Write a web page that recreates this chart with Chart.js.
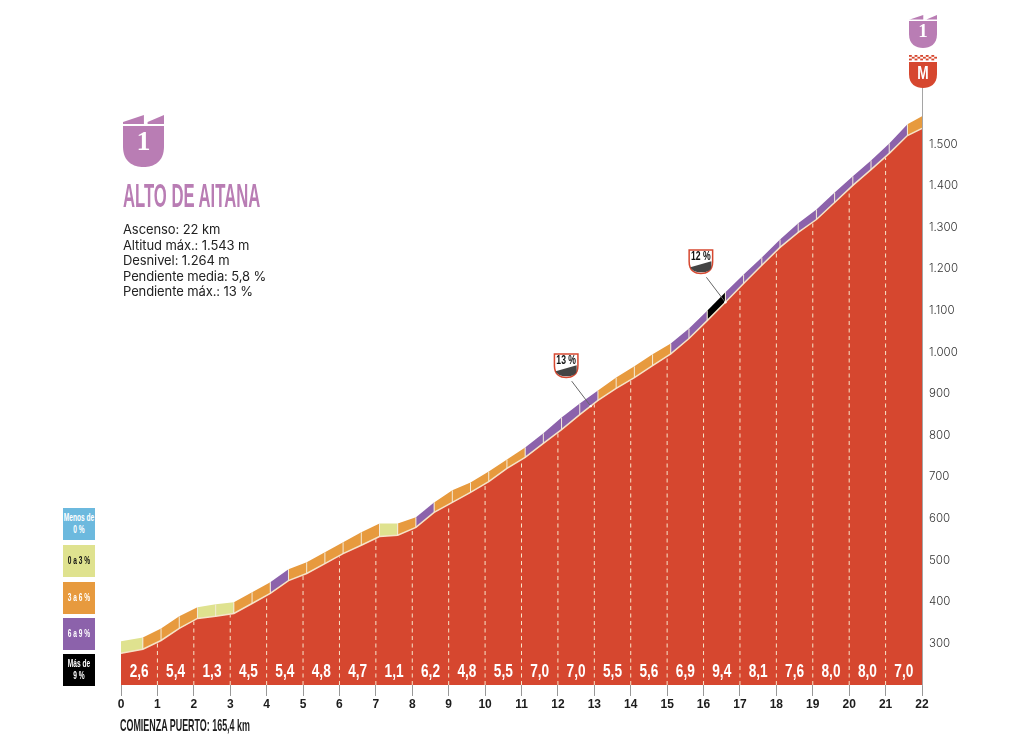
<!DOCTYPE html>
<html lang="es">
<head>
<meta charset="utf-8">
<title>Alto de Aitana</title>
<script src="https://cdn.jsdelivr.net/npm/chart.js@4"></script>
<style>
    html, body { margin: 0; padding: 0; background: #fff; }
    #wrap { position: relative; width: 1024px; height: 749px; overflow: hidden; }
    #profileChart { position: absolute; left: 0; top: 0; }
    .narrow { font-family: "Liberation Sans Narrow", "Liberation Sans", sans-serif; font-weight: 700; }
    .squeeze { position: absolute; white-space: nowrap; transform-origin: left top; }
    #title { left: 123px; top: 177px; font-size: 34px; line-height: 36px; color: #b97db4; transform: scaleX(0.49); }
    #stats { position: absolute; left: 123px; top: 222px; font: 13px/15.5px Inter, sans-serif; letter-spacing: -0.1px; color: #222; }
    #start { left: 120px; top: 716px; font-size: 17px; line-height: 19px; color: #1c1c1c; transform: scaleX(0.525); }
    .key { position: absolute; left: 63px; width: 32px; height: 32px; display: flex; align-items: center;
           justify-content: center; text-align: center; font-size: 10px; line-height: 12px; white-space: nowrap; }
    .key span { display: inline-block; transform: scaleX(0.66); }
</style>
</head>
<body>
<div id="wrap">
    <canvas id="profileChart" width="1024" height="749"></canvas>
    <div id="title" class="squeeze narrow">ALTO DE AITANA</div>
    <div id="stats">Ascenso: 22 km<br>Altitud máx.: 1.543 m<br>Desnivel: 1.264 m<br>Pendiente media: 5,8 %<br>Pendiente máx.: 13 %</div>
    <div id="start" class="squeeze narrow">COMIENZA PUERTO: 165,4 km</div>
    <div class="key narrow" style="top:508px;background:#6cb9de;color:#fff"><span>Menos de<br>0 %</span></div>
    <div class="key narrow" style="top:545px;background:#dfe28f;color:#111"><span>0 a 3 %</span></div>
    <div class="key narrow" style="top:582px;background:#e79a3e;color:#fff"><span>3 a 6 %</span></div>
    <div class="key narrow" style="top:618px;background:#8c62ab;color:#fff"><span>6 a 9 %</span></div>
    <div class="key narrow" style="top:654px;background:#000;color:#fff"><span>Más de<br>9 %</span></div>
</div>

<script>
const kmMarks = [0, 0.6, 1.1, 1.6, 2.1, 2.6, 3.1, 3.6, 4.1, 4.6, 5.1, 5.6, 6.1, 6.6, 7.1, 7.6, 8.1, 8.6, 9.1, 9.6, 10.1, 10.6,
    11.1, 11.6, 12.1, 12.6, 13.1, 13.6, 14.1, 14.6, 15.1, 15.6, 16.1, 16.6, 17.1, 17.6, 18.1, 18.6, 19.1, 19.6, 20.1, 20.6, 21.1, 21.6, 22];
const elevation = [276, 286, 307, 336, 360, 365, 372, 396, 420, 451, 468, 492, 516, 536, 557, 560, 579, 615, 639, 663, 689, 721,
    747, 781, 814, 850, 884, 913, 939, 968, 996, 1033, 1076, 1120, 1165, 1209, 1252, 1288, 1319, 1360, 1401, 1439, 1478, 1521, 1538];
const bandTop = [305, 314, 336, 365, 387, 394, 399, 423, 447, 478, 495, 519, 543, 567, 588, 588, 603, 639, 668, 687, 713, 742,
    771, 805, 843, 877, 908, 939, 966, 995, 1021, 1057, 1100, 1144, 1187, 1228, 1271, 1310, 1343, 1384, 1423, 1461, 1502, 1548, 1567];
// slope class of each stretch between two kmMarks
const bandClass = ["y", "o", "o", "o", "y", "y", "o", "o", "p", "o", "o", "o", "o", "o", "y", "o", "p", "o", "o", "o", "o", "o",
    "p", "p", "p", "p", "o", "o", "o", "o", "p", "p", "k", "p", "p", "p", "p", "p", "p", "p", "p", "p", "p", "o"];
const gradients = ["2,6", "5,4", "1,3", "4,5", "5,4", "4,8", "4,7", "1,1", "6,2", "4,8", "5,5",
    "7,0", "7,0", "5,5", "5,6", "6,9", "9,4", "8,1", "7,6", "8,0", "8,0", "7,0"];
const steepKm = [12.9, 16.6];
const steepLabels = ["13 %", "12 %"];

const classColors = { y: "#dfe28f", o: "#e79a3e", p: "#8c62ab", k: "#000000" };
const RED = "#d6472f";
const PINK = "#b97db4";
const CREAM = "#f6e4c8";
const NARROW = '"Liberation Sans Narrow", "Liberation Sans", sans-serif';

function elevationAt(km) {
    let i = 0;
    while (i < kmMarks.length - 2 && kmMarks[i + 1] < km) i++;
    const t = (km - kmMarks[i]) / (kmMarks[i + 1] - kmMarks[i]);
    return elevation[i] + t * (elevation[i + 1] - elevation[i]);
}

function shieldBody(ctx, x, y, w, h, color) {
    const straight = h - w / 2;
    ctx.fillStyle = color;
    ctx.beginPath();
    ctx.moveTo(x, y);
    ctx.lineTo(x + w, y);
    ctx.lineTo(x + w, y + straight);
    ctx.bezierCurveTo(x + w, y + h - w * 0.12, x + w * 0.75, y + h, x + w / 2, y + h);
    ctx.bezierCurveTo(x + w * 0.25, y + h, x, y + h - w * 0.12, x, y + straight);
    ctx.closePath();
    ctx.fill();
}

function squeezedText(ctx, text, x, y, scaleX) {
    ctx.save();
    ctx.translate(x, y);
    ctx.scale(scaleX, 1);
    ctx.fillText(text, 0, 0);
    ctx.restore();
}

function climbBadge(ctx, x, y, w, bodyTop, bodyH) {
    const flagBottom = bodyTop - w * 0.05;
    ctx.fillStyle = PINK;
    ctx.beginPath();
    ctx.moveTo(x, y + w * 0.17);
    ctx.lineTo(x + w * 0.51, y);
    ctx.lineTo(x + w * 0.51, flagBottom);
    ctx.lineTo(x, flagBottom);
    ctx.closePath();
    ctx.moveTo(x + w * 0.6, y + w * 0.17);
    ctx.lineTo(x + w, y);
    ctx.lineTo(x + w, flagBottom);
    ctx.lineTo(x + w * 0.6, flagBottom);
    ctx.closePath();
    ctx.fill();
    shieldBody(ctx, x, bodyTop, w, bodyH, PINK);
    ctx.fillStyle = "#fff";
    ctx.font = "700 " + Math.round(w * 0.68) + 'px "Liberation Serif", serif';
    ctx.textAlign = "center";
    ctx.textBaseline = "middle";
    ctx.fillText("1", x + w / 2, bodyTop + bodyH * 0.42);
}

function steepBadge(ctx, x, y, label) {
    const w = 25, h = 25;
    shieldBody(ctx, x, y, w, h, RED);
    shieldBody(ctx, x + 1.5, y + 1.5, w - 3, h - 3, "#fff");
    ctx.beginPath();
    ctx.moveTo(x + 2, y + h - 7);
    ctx.lineTo(x + w - 2, y + h - 13);
    ctx.lineTo(x + w - 2, y + h - 8);
    ctx.quadraticCurveTo(x + w - 2, y + h - 2, x + w / 2, y + h - 2);
    ctx.quadraticCurveTo(x + 4, y + h - 2, x + 2, y + h - 7);
    ctx.closePath();
    ctx.fillStyle = "#444";
    ctx.fill();
    ctx.fillStyle = "#111";
    ctx.font = "700 12px " + NARROW;
    ctx.textAlign = "center";
    ctx.textBaseline = "middle";
    squeezedText(ctx, label, x + w / 2, y + 7.5, 0.72);
}

// dashed km lines, band dividers, slope values and the badges
const profileDecor = {
    id: "profileDecor",
    afterDatasetsDraw(chart) {
        const { ctx, scales: { x, y } } = chart;
        const bottom = y.bottom;
        ctx.save();

        ctx.strokeStyle = CREAM;
        ctx.lineWidth = 1;
        ctx.setLineDash([4, 3.5]);
        for (let km = 1; km < 22; km++) {
            const px = x.getPixelForValue(km);
            ctx.beginPath();
            ctx.moveTo(px, bottom);
            ctx.lineTo(px, y.getPixelForValue(elevationAt(km)) + 1);
            ctx.stroke();
        }
        ctx.setLineDash([]);

        ctx.strokeStyle = "#f3ead8";
        for (let i = 1; i < kmMarks.length - 1; i++) {
            const px = x.getPixelForValue(kmMarks[i]);
            ctx.beginPath();
            ctx.moveTo(px, y.getPixelForValue(elevation[i]));
            ctx.lineTo(px, y.getPixelForValue(bandTop[i]));
            ctx.stroke();
        }

        ctx.fillStyle = "#fff";
        ctx.font = "700 19px " + NARROW;
        ctx.textAlign = "center";
        ctx.textBaseline = "middle";
        gradients.forEach((g, i) => {
            squeezedText(ctx, g, x.getPixelForValue(i + 0.5), bottom - 13, 0.72);
        });

        steepKm.forEach((km, i) => {
            const px = x.getPixelForValue(km);
            const py = y.getPixelForValue(elevationAt(km));
            ctx.strokeStyle = "#666";
            ctx.lineWidth = 1;
            ctx.beginPath();
            ctx.moveTo(px, py);
            ctx.lineTo(px - 19, py - 25);
            ctx.stroke();
            ctx.fillStyle = "#fff";
            ctx.beginPath();
            ctx.arc(px, py, 1.2, 0, Math.PI * 2);
            ctx.fill();
            steepBadge(ctx, px - 37, py - 53, steepLabels[i]);
        });

        // climb badge beside the title and the pair above the summit
        climbBadge(ctx, 123, 115, 41, 126, 41);
        climbBadge(ctx, 909, 15, 28, 21, 27);

        const mx = 909, mw = 28;
        for (let row = 0; row < 3; row++) {
            for (let col = 0; col < 10; col++) {
                if ((row + col) % 2 === 0) {
                    ctx.fillStyle = RED;
                    ctx.fillRect(mx + col * 2.8, 55 + row * 1.8, 2.8, 1.8);
                }
            }
        }
        shieldBody(ctx, mx, 62, mw, 26, RED);
        ctx.fillStyle = "#fff";
        ctx.font = "700 19px " + NARROW;
        ctx.textAlign = "center";
        ctx.textBaseline = "middle";
        squeezedText(ctx, "M", mx + mw / 2, 74, 0.72);
        ctx.restore();
    }
};

function renderProfile() {
    const ctx = document.getElementById("profileChart").getContext("2d");
    new Chart(ctx, {
        type: "line",
        data: {
            datasets: [
                {
                    label: "Altitud",
                    data: kmMarks.map((km, i) => ({ x: km, y: elevation[i] })),
                    borderColor: CREAM,
                    borderWidth: 1.5,
                    backgroundColor: RED,
                    fill: "origin",
                    pointRadius: 0,
                    tension: 0
                },
                {
                    label: "Pendiente",
                    data: kmMarks.map((km, i) => ({ x: km, y: bandTop[i] })),
                    borderWidth: 0,
                    borderColor: "transparent",
                    backgroundColor: classColors.o,
                    fill: 0,
                    pointRadius: 0,
                    tension: 0,
                    segment: {
                        backgroundColor: c => classColors[bandClass[c.p0DataIndex]]
                    }
                }
            ]
        },
        options: {
            responsive: false,
            animation: false,
            events: [],
            layout: { padding: { left: 121, top: 86, right: 0, bottom: 0 } },
            plugins: { legend: { display: false }, tooltip: { enabled: false } },
            scales: {
                x: {
                    type: "linear",
                    min: 0,
                    max: 22,
                    afterFit: s => { s.height = 64; },
                    grid: { drawOnChartArea: false, tickLength: 11, color: "#999", tickWidth: 1 },
                    border: { display: false },
                    ticks: {
                        stepSize: 1,
                        maxRotation: 0,
                        autoSkip: false,
                        padding: 1,
                        color: "#1c1c1c",
                        font: { family: NARROW, size: 12, weight: "700" }
                    }
                },
                y: {
                    position: "right",
                    min: 200,
                    max: 1640,
                    afterFit: s => { s.width = 102; },
                    grid: { drawOnChartArea: false, drawTicks: false },
                    border: { display: true, color: "#a5a5a5", width: 1 },
                    afterBuildTicks: s => { s.ticks = s.ticks.filter(t => t.value >= 300 && t.value <= 1500); },
                    ticks: {
                        stepSize: 100,
                        padding: 7,
                        color: "#333",
                        font: { family: "Inter, sans-serif", size: 11.5, weight: "300" },
                        callback: v => v >= 1000 ? Math.floor(v / 1000) + "." + String(v % 1000).padStart(3, "0") : String(v)
                    }
                }
            }
        },
        plugins: [profileDecor]
    });
}

document.addEventListener("DOMContentLoaded", renderProfile);
</script>
</body>
</html>
